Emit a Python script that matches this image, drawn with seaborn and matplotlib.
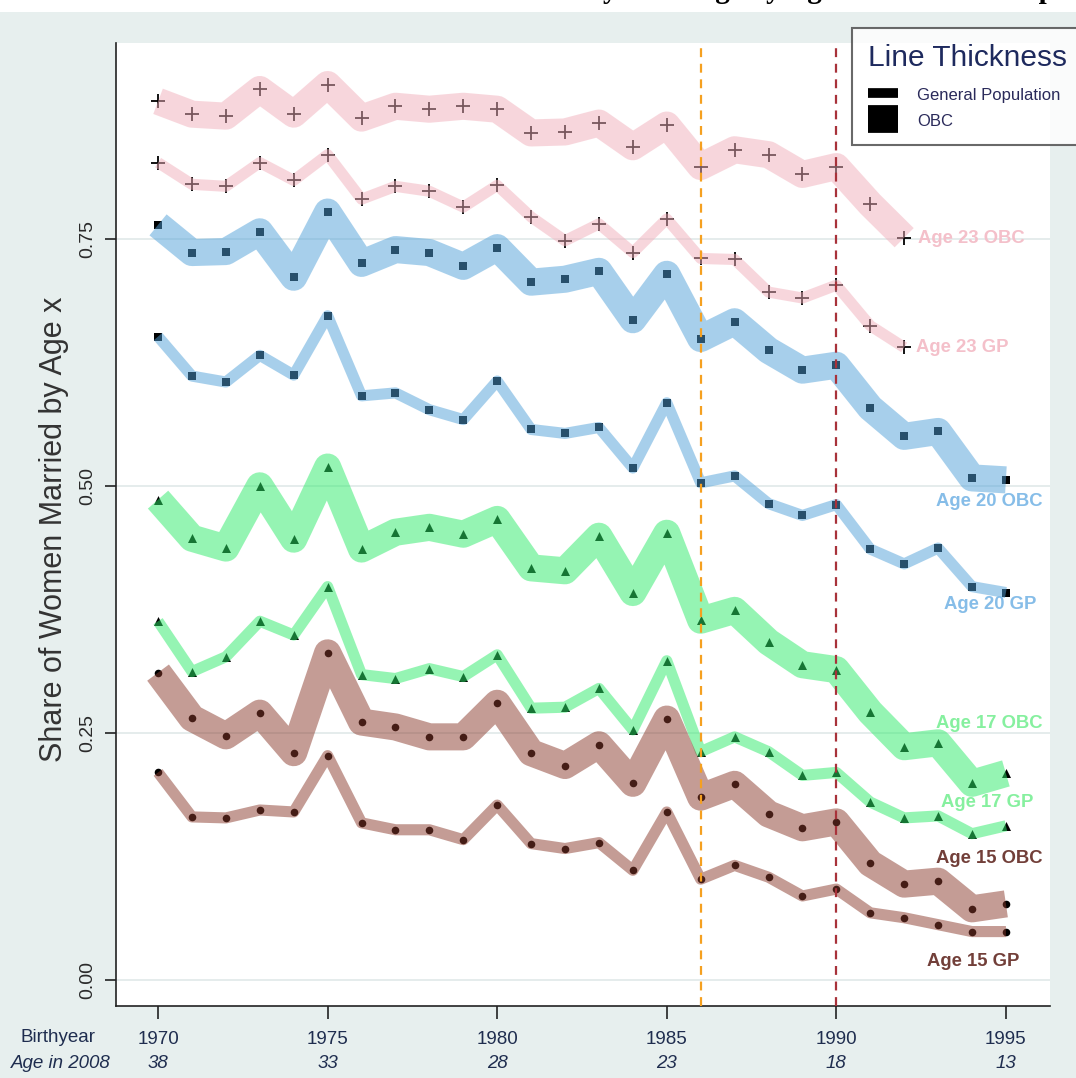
import numpy as np
import pandas as pd
import matplotlib
matplotlib.use("Agg")
import matplotlib.pyplot as plt
import matplotlib.transforms as mtransforms
from matplotlib.lines import Line2D
from matplotlib.patches import Rectangle
import seaborn as sns

# ---------------- data ----------------
years = list(range(1970, 1996))
years23 = list(range(1970, 1993))

age23_obc = [0.889, 0.876, 0.874, 0.901, 0.876, 0.906, 0.872, 0.884, 0.881, 0.884, 0.881,
             0.857, 0.858, 0.867, 0.843, 0.865, 0.823, 0.840, 0.835, 0.815, 0.823, 0.785, 0.751]
age23_gp = [0.827, 0.805, 0.803, 0.827, 0.809, 0.835, 0.790, 0.803, 0.798, 0.782, 0.804,
            0.772, 0.748, 0.765, 0.736, 0.770, 0.730, 0.729, 0.696, 0.690, 0.703, 0.662, 0.640]
age20_obc = [0.764, 0.736, 0.737, 0.757, 0.711, 0.777, 0.725, 0.739, 0.736, 0.722, 0.741,
             0.706, 0.709, 0.717, 0.668, 0.714, 0.649, 0.666, 0.637, 0.617, 0.622, 0.579,
             0.550, 0.555, 0.508, 0.506]
age20_gp = [0.651, 0.611, 0.605, 0.632, 0.612, 0.672, 0.591, 0.594, 0.577, 0.567, 0.606,
            0.557, 0.553, 0.559, 0.518, 0.584, 0.503, 0.510, 0.482, 0.470, 0.481, 0.436,
            0.421, 0.437, 0.398, 0.392]
age17_obc = [0.486, 0.447, 0.437, 0.500, 0.446, 0.519, 0.436, 0.453, 0.458, 0.451, 0.466,
             0.417, 0.414, 0.449, 0.392, 0.452, 0.364, 0.374, 0.342, 0.319, 0.314, 0.271,
             0.236, 0.240, 0.199, 0.209]
age17_gp = [0.363, 0.312, 0.327, 0.363, 0.349, 0.398, 0.309, 0.305, 0.315, 0.307, 0.329,
            0.275, 0.276, 0.295, 0.253, 0.323, 0.231, 0.246, 0.231, 0.207, 0.210, 0.180,
            0.164, 0.166, 0.148, 0.156]
age15_obc = [0.311, 0.265, 0.247, 0.270, 0.230, 0.331, 0.261, 0.256, 0.246, 0.246, 0.280,
             0.230, 0.217, 0.238, 0.199, 0.264, 0.185, 0.198, 0.168, 0.154, 0.160, 0.118,
             0.097, 0.100, 0.072, 0.077]
age15_gp = [0.210, 0.165, 0.164, 0.172, 0.170, 0.227, 0.159, 0.152, 0.152, 0.142, 0.177,
            0.138, 0.133, 0.139, 0.111, 0.170, 0.102, 0.116, 0.104, 0.085, 0.092, 0.068,
            0.063, 0.056, 0.049, 0.049]

series_names = ["Age 23 OBC", "Age 23 GP", "Age 20 OBC", "Age 20 GP",
                "Age 17 OBC", "Age 17 GP", "Age 15 OBC", "Age 15 GP"]
series_years = [years23, years23, years, years, years, years, years, years]
series_vals = [age23_obc, age23_gp, age20_obc, age20_gp, age17_obc, age17_gp, age15_obc, age15_gp]

tick_years = [1970, 1975, 1980, 1985, 1990, 1995]
tick_ages = ["38", "33", "28", "23", "18", "13"]
yticks = [0.0, 0.25, 0.50, 0.75]
ytick_labels = ["0.00", "0.25", "0.50", "0.75"]
vline_years = [1986, 1990]

# ---------------- style ----------------
sns.set_theme(style="white")
plt.rcParams["font.family"] = ["Liberation Sans", "DejaVu Sans"]

W, H = 1076, 1078
fig = plt.figure(figsize=(W / 100, H / 100), dpi=100)
fig.patch.set_facecolor("#e7efee")
fig.patches.append(Rectangle((0, 1 - 12 / H), 1, 12 / H, transform=fig.transFigure,
                             facecolor="white", edgecolor="none", zorder=0))

ax = fig.add_axes([116 / W, 1 - 1006 / H, (1050 - 116) / W, (1006 - 43) / H])
ax.set_facecolor("white")

band_col = {"23": "#f1afbb", "20": "#51a1d9", "17": "#2deb69", "15": "#8a3a2c"}
label_col = {"23": "#f4c0ca", "20": "#86bde8", "17": "#86f09f", "15": "#723f39"}
markers = {"23": ("+", 110), "20": ("s", 26), "17": ("^", 42), "15": ("o", 30)}

for name, xs, ys in zip(series_names, series_years, series_vals):
    age = name.split()[1]
    obc = name.endswith("OBC")
    df = pd.DataFrame({"year": xs, "share": ys})
    m, s = markers[age]
    if m == "+":
        sns.scatterplot(data=df, x="year", y="share", marker="+", s=s, color="black",
                        linewidth=1.3, ax=ax, zorder=2, legend=False)
    else:
        sns.scatterplot(data=df, x="year", y="share", marker=m, s=s, color="black",
                        linewidth=0, ax=ax, zorder=2, legend=False)
    sns.lineplot(data=df, x="year", y="share", color=band_col[age], alpha=0.5,
                 lw=19.5 if obc else 8.0, solid_joinstyle="round", solid_capstyle="butt",
                 estimator=None, sort=False, ax=ax, zorder=3, legend=False)

# vertical reference lines
ax.axvline(vline_years[0], color="#f5a020", lw=1.6, dashes=(4, 3), zorder=4)
ax.axvline(vline_years[1], color="#a8323a", lw=1.6, dashes=(4, 3), zorder=4)

# gridlines
for yv in yticks:
    ax.axhline(yv, color="#e3ebeb", lw=1.3, zorder=0.5)

# right-hand labels
label_pos = {"Age 23 OBC": (1992.41, 0.750), "Age 23 GP": (1992.35, 0.640),
             "Age 20 OBC": (1992.94, 0.484), "Age 20 GP": (1993.17, 0.380),
             "Age 17 OBC": (1992.94, 0.260), "Age 17 GP": (1993.08, 0.180),
             "Age 15 OBC": (1992.94, 0.123), "Age 15 GP": (1992.67, 0.019)}
for name in series_names:
    age = name.split()[1]
    lx, ly = label_pos[name]
    ax.text(lx, ly, name, color=label_col[age], fontsize=13.3, fontweight="bold",
            ha="left", va="center", zorder=5)

ax.set_xlim(1968.76, 1996.30)
ax.set_ylim(-0.0263, 0.948)

for sp in ["top", "right"]:
    ax.spines[sp].set_visible(False)
for sp in ["left", "bottom"]:
    ax.spines[sp].set_color("#222222")
    ax.spines[sp].set_linewidth(1.2)

ax.set_xticks(tick_years)
ax.set_xticklabels([str(y) for y in tick_years], fontsize=13.5, color="#1f2d4f")
ax.set_yticks(yticks)
ax.set_yticklabels(ytick_labels, fontsize=14, color="#2a2a2a", rotation=90, va="center")
ax.tick_params(axis="x", direction="out", length=9, width=1.2, color="#222222", pad=9,
               bottom=True)
ax.tick_params(axis="y", direction="out", length=8, width=1.2, color="#222222", pad=6,
               left=True)
ax.set_xlabel("")
ax.set_ylabel("")

trans = mtransforms.blended_transform_factory(ax.transData, fig.transFigure)
for yr, a in zip(tick_years, tick_ages):
    ax.text(yr, 1 - 1063 / H, a, transform=trans, fontsize=13.5, fontstyle="italic",
            color="#1f2d4f", ha="center", va="center", clip_on=False)

fig.text(58 / W, 1 - 1037 / H, "Birthyear", fontsize=13.5, color="#1f2d4f",
         ha="center", va="center")
fig.text(61 / W, 1 - 1063 / H, "Age in 2008", fontsize=13.5, fontstyle="italic",
         color="#1f2d4f", ha="center", va="center")

fig.text(54 / W, 1 - 529 / H, "Share of Women Married by Age x", rotation=90,
         fontsize=22, color="#333333", ha="center", va="center")

# title, mostly cut off at the very top as in the source image
fig.text(423 / W, 1 + 2 / H, "Trends in Early Marriage by Age and Caste Group",
         fontsize=21, fontweight="bold", family=["Liberation Serif", "DejaVu Serif"],
         ha="left", va="baseline", color="black")

# legend
handles = [Line2D([], [], color="black", lw=7, solid_capstyle="butt"),
           Line2D([], [], color="black", lw=20, solid_capstyle="butt")]
leg = ax.legend(handles, ["General Population", "OBC"], title="Line Thickness",
                title_fontsize=21.5, fontsize=12, loc="upper left",
                bbox_to_anchor=(852 / W, 1 - 28 / H), bbox_transform=fig.transFigure,
                borderaxespad=0, frameon=True, fancybox=False, handlelength=1.8,
                handleheight=1.2, handletextpad=1.15, borderpad=0.95, labelspacing=0.55,
                alignment="left")
leg._legend_box.sep = 10
leg.get_frame().set_edgecolor("#444444")
leg.get_frame().set_linewidth(1.5)
leg.get_title().set_color("#1e2a5e")
for t in leg.get_texts():
    t.set_color("#2a2a5a")
leg.set_zorder(10)

fig.savefig("out.png", dpi=100, facecolor=fig.get_facecolor())
